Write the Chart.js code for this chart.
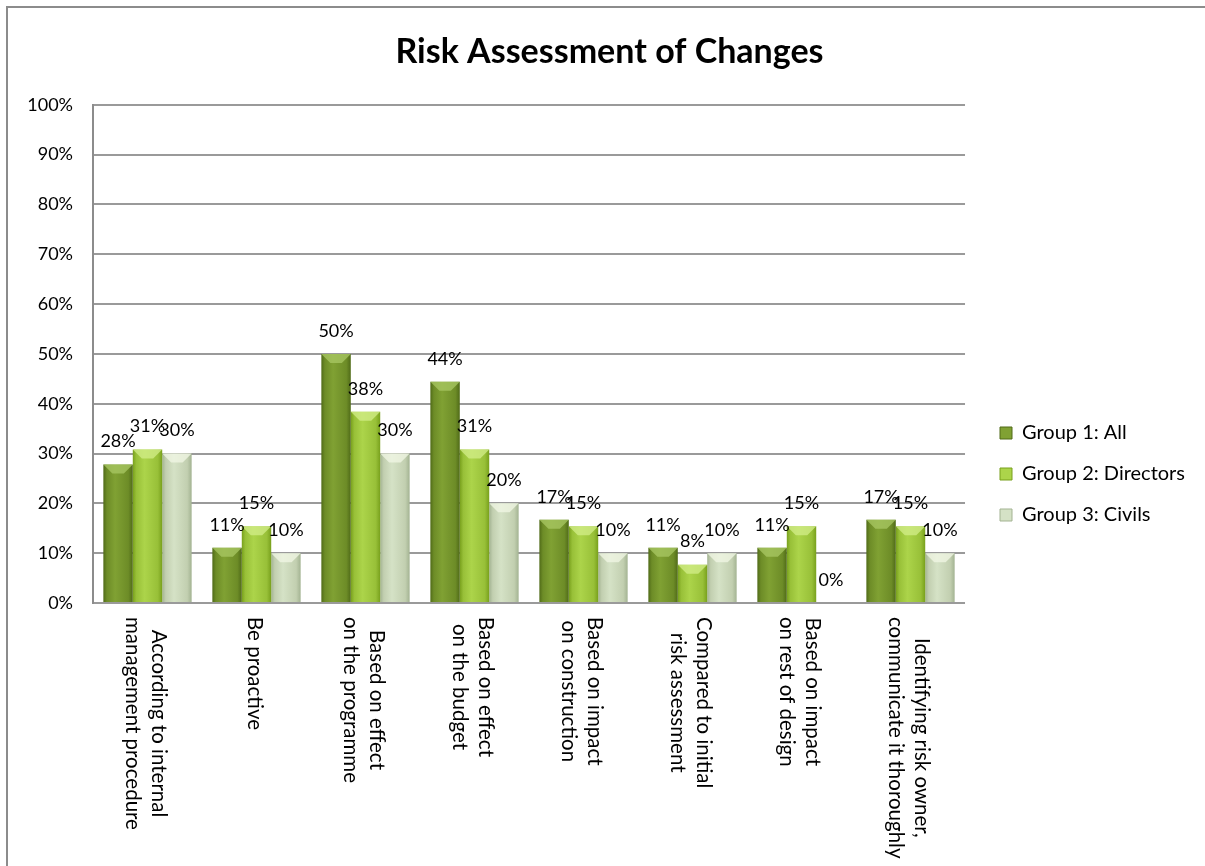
<!DOCTYPE html>
<html>
<head>
<meta charset="utf-8">
<script src="https://cdn.jsdelivr.net/npm/chart.js@4.4.0/dist/chart.umd.min.js"></script>
<style>
  html, body { margin: 0; padding: 0; background: #fff; overflow: hidden; }
  #wrap { position: relative; width: 1205px; height: 866px; }
  #frame { position: absolute; left: 6px; top: 6px; width: 1300px; height: 1000px;
           border-left: 2px solid #8c8c8c; border-top: 2px solid #8c8c8c; }
  canvas { position: absolute; left: 0; top: 0; }
</style>
</head>
<body>
<div id="wrap">
  <div id="frame"></div>
  <canvas id="riskChart" width="1205" height="866"></canvas>
</div>
<script>
const chartTitle = 'Risk Assessment of Changes';
const categories = [
    ['According to internal', 'management procedure'],
    ['Be proactive'],
    ['Based on effect', 'on the programme'],
    ['Based on effect', 'on the budget'],
    ['Based on impact', 'on construction'],
    ['Compared to initial', 'risk assessment'],
    ['Based on impact', 'on rest of design'],
    ['Identifying risk owner,', 'communicate it thoroughly']
];
const seriesNames = ['Group 1: All', 'Group 2: Directors', 'Group 3: Civils'];
const group1All = [27.8, 11.1, 50.0, 44.4, 16.7, 11.1, 11.1, 16.7];
const group2Directors = [30.8, 15.4, 38.4, 30.8, 15.4, 7.7, 15.4, 15.4];
const group3Civils = [30, 10, 30, 20, 10, 10, 0, 10];
const yTicks = [0, 10, 20, 30, 40, 50, 60, 70, 80, 90, 100];

const FONT = 'Lato, "Open Sans", sans-serif';

// edge / centre / main colours for the bevelled bars
const palettes = [
    { edge: '#506b18', mid: '#80a133', main: '#6d8c27', hi: '#a9c864' },
    { edge: '#78a01c', mid: '#acd44a', main: '#98c038', hi: '#d3ee8a' },
    { edge: '#a3b392', mid: '#d5e2c6', main: '#c2cfb0', hi: '#f1f7e6' }
];

function barFill(p) {
    return (ctx) => {
        const chart = ctx.chart;
        if (ctx.dataIndex === undefined) return p.main;
        const el = chart.getDatasetMeta(ctx.datasetIndex).data[ctx.dataIndex];
        if (!el || !isFinite(el.x) || !el.width) return p.main;
        const left = el.x - el.width / 2;
        const g = chart.ctx.createLinearGradient(left, 0, left + el.width, 0);
        g.addColorStop(0, p.edge);
        g.addColorStop(0.12, p.main);
        g.addColorStop(0.4, p.mid);
        g.addColorStop(0.85, p.main);
        g.addColorStop(1, p.edge);
        return g;
    };
}

// bevel highlight on top of each bar
const bevelPlugin = {
    id: 'bevel',
    afterDatasetsDraw(chart) {
        const ctx = chart.ctx;
        chart.data.datasets.forEach((ds, di) => {
            const p = palettes[di];
            chart.getDatasetMeta(di).data.forEach((bar) => {
                const h = bar.base - bar.y;
                if (h < 2) return;
                const l = bar.x - bar.width / 2, r = bar.x + bar.width / 2;
                const b = Math.min(9, h / 2);
                ctx.save();
                ctx.fillStyle = p.hi;
                ctx.globalAlpha = 0.75;
                ctx.beginPath();
                ctx.moveTo(l, bar.y);
                ctx.lineTo(r, bar.y);
                ctx.lineTo(r - b, bar.y + b);
                ctx.lineTo(l + b, bar.y + b);
                ctx.closePath();
                ctx.fill();
                ctx.restore();
            });
        });
    }
};

const valueLabelPlugin = {
    id: 'valueLabels',
    afterDatasetsDraw(chart) {
        const ctx = chart.ctx;
        ctx.save();
        ctx.font = '18px ' + FONT;
        ctx.fillStyle = '#000';
        ctx.textAlign = 'center';
        ctx.textBaseline = 'middle';
        chart.data.datasets.forEach((ds, di) => {
            chart.getDatasetMeta(di).data.forEach((bar, i) => {
                ctx.fillText(Math.round(ds.data[i]) + '%', bar.x, bar.y - 23);
            });
        });
        ctx.restore();
    }
};

// category labels, turned clockwise like the original
const xLabelPlugin = {
    id: 'xLabels',
    afterDraw(chart) {
        const ctx = chart.ctx;
        const xs = chart.scales.x;
        const top = chart.chartArea.bottom + 14;
        const lineGap = 26;
        ctx.save();
        ctx.font = '20.5px ' + FONT;
        ctx.fillStyle = '#000';
        ctx.textAlign = 'center';
        ctx.textBaseline = 'middle';
        categories.forEach((lines, i) => {
            const cx = xs.getPixelForTick(i) - 2;
            const w = Math.max(...lines.map((t) => ctx.measureText(t).width));
            ctx.save();
            ctx.translate(cx, top);
            ctx.rotate(Math.PI / 2);
            lines.forEach((t, k) => {
                ctx.fillText(t, w / 2, (k - (lines.length - 1) / 2) * lineGap);
            });
            ctx.restore();
        });
        ctx.restore();
    }
};

// nudge the legend right/down and the title right, like the original layout
const boxShift = {
    id: 'boxShift',
    afterLayout(chart) {
        const lg = chart.legend;
        if (lg) {
            lg.left += 14; lg.right += 14;
            lg.top += 41; lg.bottom += 41;
        }
        const tb = chart.titleBlock;
        if (tb) { tb.left += 19; tb.right += 19; }
    }
};

const datasets = [group1All, group2Directors, group3Civils].map((data, i) => ({
    label: seriesNames[i],
    data: data,
    backgroundColor: barFill(palettes[i]),
    borderColor: palettes[i].edge,
    borderWidth: 0,
    categoryPercentage: 0.81,
    barPercentage: 1.0
}));

const chart = new Chart(document.getElementById('riskChart'), {
    type: 'bar',
    data: { labels: categories.map((l) => l.join(' ')), datasets },
    options: {
        responsive: false,
        animation: false,
        layout: { padding: { left: 0, right: 24, top: 0, bottom: 0 } },
        plugins: {
            title: {
                display: true,
                text: chartTitle,
                color: '#000',
                font: { family: FONT, size: 34, weight: 'bold' },
                padding: { top: 32, bottom: 32 }
            },
            legend: {
                position: 'right',
                labels: {
                    color: '#000',
                    font: { family: FONT, size: 20 },
                    boxWidth: 12,
                    boxHeight: 12,
                    padding: 21,
                    generateLabels(chart) {
                        return seriesNames.map((name, i) => ({
                            text: name,
                            fontColor: '#000',
                            fillStyle: palettes[i].mid,
                            strokeStyle: palettes[i].edge,
                            lineWidth: 1,
                            datasetIndex: i
                        }));
                    }
                }
            },
            tooltip: { enabled: false }
        },
        scales: {
            x: {
                grid: { display: false },
                border: { display: false },
                ticks: { display: false },
                afterFit(scale) { scale.height = 263; }
            },
            y: {
                min: 0,
                max: 100,
                afterBuildTicks(scale) { scale.ticks = yTicks.map((v) => ({ value: v })); },
                afterFit(scale) { scale.width = 93; },
                grid: { color: '#9a9a9a', lineWidth: 2, drawTicks: false },
                border: { display: true, color: '#8c8c8c', width: 2 },
                ticks: {
                    color: '#000',
                    padding: 20,
                    font: { family: FONT, size: 18 },
                    callback: (v) => v + '%'
                }
            }
        }
    },
    plugins: [bevelPlugin, valueLabelPlugin, xLabelPlugin, boxShift]
});
chart.update('none');
</script>
</body>
</html>
